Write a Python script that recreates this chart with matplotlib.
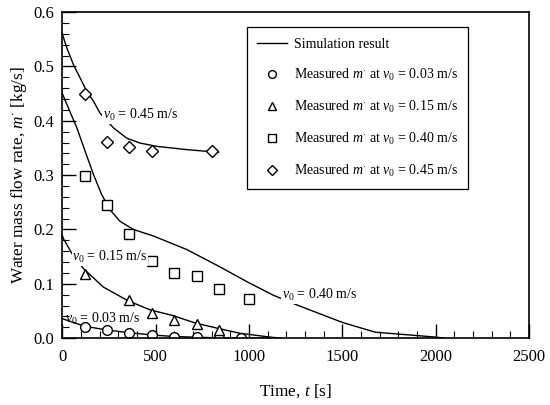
import matplotlib
matplotlib.use("Agg")
import matplotlib.pyplot as plt
from matplotlib.ticker import MultipleLocator

plt.rcParams["font.family"] = ["Liberation Serif", "DejaVu Serif"]
plt.rcParams["mathtext.fontset"] = "custom"
plt.rcParams["mathtext.rm"] = "Liberation Serif"
plt.rcParams["mathtext.it"] = "Liberation Serif:italic"

# simulation curves
t_sim_45 = [0, 25, 61, 96, 132, 168, 203, 275, 346, 418, 507, 668, 837]
m_sim_45 = [0.561, 0.534, 0.503, 0.479, 0.454, 0.436, 0.414, 0.387, 0.368, 0.359, 0.353, 0.347, 0.342]

t_sim_40 = [0, 34, 79, 123, 168, 212, 257, 310, 382, 489, 668, 846, 989, 1131,
            1258, 1500, 1676, 2000, 2050]
m_sim_40 = [0.451, 0.423, 0.387, 0.344, 0.301, 0.264, 0.236, 0.215, 0.2, 0.188, 0.163, 0.131, 0.104, 0.079,
            0.061, 0.029, 0.011, 0.002, 0.0]

t_sim_15 = [0, 7, 52, 114, 221, 346, 471, 589, 712, 835, 953, 1113, 1170]
m_sim_15 = [0.19, 0.183, 0.156, 0.128, 0.094, 0.07, 0.052, 0.042, 0.028, 0.018, 0.009, 0.002, 0.0]

t_sim_03 = [0, 120, 240, 360, 480, 600, 800, 1100]
m_sim_03 = [0.036, 0.022, 0.015, 0.01, 0.006, 0.003, 0.001, 0.0]

# measurements
t_meas_03 = [120, 240, 360, 480, 600, 720, 840, 960]
m_meas_03 = [0.021, 0.015, 0.009, 0.006, 0.003, 0.002, 0.001, 0.001]

t_meas_15 = [120, 360, 480, 600, 720, 840]
m_meas_15 = [0.118, 0.07, 0.046, 0.033, 0.026, 0.015]

t_meas_40 = [120, 240, 360, 480, 600, 720, 840, 1000]
m_meas_40 = [0.298, 0.245, 0.191, 0.142, 0.12, 0.115, 0.09, 0.073]

t_meas_45 = [120, 240, 360, 480, 800]
m_meas_45 = [0.45, 0.361, 0.352, 0.344, 0.344]

fig = plt.figure(figsize=(5.5, 4.05), dpi=100)
ax = fig.add_axes([0.113, 0.165, 0.849, 0.805])

ax.plot(t_sim_45, m_sim_45, color="black", lw=1.0, label="Simulation result")
ax.plot(t_sim_40, m_sim_40, color="black", lw=1.0)
ax.plot(t_sim_15, m_sim_15, color="black", lw=1.0)
ax.plot(t_sim_03, m_sim_03, color="black", lw=1.0)

mk = dict(linestyle="none", markerfacecolor="white", markeredgecolor="black", markeredgewidth=1.0)
ax.plot(t_meas_03, m_meas_03, marker="o", ms=7, label=r"Measured $m^{\cdot}$ at $v_0$ = 0.03 m/s", **mk)
ax.plot(t_meas_15, m_meas_15, marker="^", ms=7.5, label=r"Measured $m^{\cdot}$ at $v_0$ = 0.15 m/s", **mk)
ax.plot(t_meas_40, m_meas_40, marker="s", ms=6.5, label=r"Measured $m^{\cdot}$ at $v_0$ = 0.40 m/s", **mk)
ax.plot(t_meas_45, m_meas_45, marker="D", ms=6.5, label=r"Measured $m^{\cdot}$ at $v_0$ = 0.45 m/s", **mk)

box = dict(facecolor="white", edgecolor="none", pad=0.5)
ax.text(219, 0.41, r"$v_0$ = 0.45 m/s", fontsize=10, va="center", ha="left", bbox=box)
ax.text(54, 0.149, r"$v_0$ = 0.15 m/s", fontsize=10, va="center", ha="left", bbox=box)
ax.text(16, 0.035, r"$v_0$ = 0.03 m/s", fontsize=10, va="center", ha="left")
ax.text(1178, 0.079, r"$v_0$ = 0.40 m/s", fontsize=10, va="center", ha="left", bbox=box)

ax.set_xlim(0, 2500)
ax.set_ylim(0, 0.6)
ax.xaxis.set_major_locator(MultipleLocator(500))
ax.xaxis.set_minor_locator(MultipleLocator(100))
ax.yaxis.set_major_locator(MultipleLocator(0.1))
ax.yaxis.set_minor_locator(MultipleLocator(0.02))
ax.yaxis.set_major_formatter(plt.FormatStrFormatter("%.1f"))
ax.tick_params(which="both", direction="in", labelsize=12, color="black")
ax.tick_params(which="major", length=10, width=1.0)
ax.tick_params(which="minor", length=5, width=0.8)
ax.tick_params(axis="x", which="major", pad=8)
ax.tick_params(axis="y", which="major", pad=6)
for s in ax.spines.values():
    s.set_linewidth(1.2)

ax.set_xlabel(r"Time, $t$ [s]", fontsize=12.4, labelpad=12)
ax.set_ylabel(r"Water mass flow rate, $m^{\cdot}$ [kg/s]", fontsize=12.4, labelpad=3)

leg = ax.legend(loc="upper left", bbox_to_anchor=(0.396, 0.954), borderaxespad=0,
                fontsize=10, frameon=True, fancybox=False, edgecolor="black",
                framealpha=1, labelspacing=1.15, handlelength=2.1, markerscale=0.8,
                borderpad=0.75, handletextpad=0.5)
leg.get_frame().set_linewidth(0.9)

fig.savefig("out.png", dpi=100)
